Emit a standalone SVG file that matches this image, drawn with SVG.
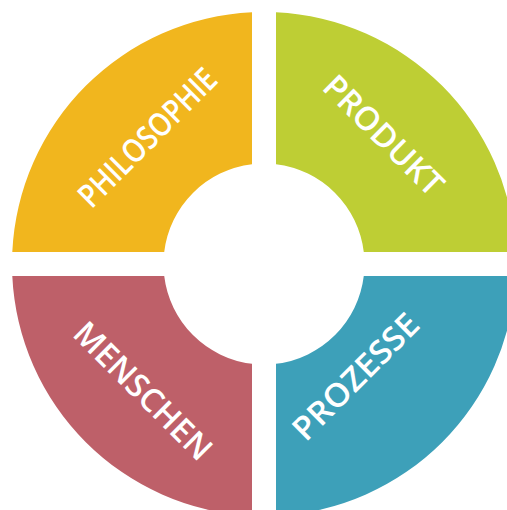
<svg xmlns="http://www.w3.org/2000/svg" width="507" height="510" viewBox="0 0 507 510">
  <style>
    .seg { stroke: none; }
    .label { fill: #ffffff; font-family: "Open Sans", "Liberation Sans", sans-serif; font-weight: 600; font-size: 32.5px; text-anchor: middle; }
  </style>
  <rect width="507" height="510" fill="#ffffff"/>
  <!-- ring centred at (264,264), outer r 252, inner r 100.5, 24px cross-shaped gaps -->
  <g id="philosophie">
    <path class="seg" fill="#F1B61E" d="M12.29,252 A252,252 0 0 1 252,12.29 L252,164.22 A100.5,100.5 0 0 0 164.22,252 Z"/>
    <text class="label" transform="translate(155.4,145.5) rotate(-45)" textLength="181" lengthAdjust="spacingAndGlyphs">PHILOSOPHIE</text>
  </g>
  <g id="produkt">
    <path class="seg" fill="#BECE34" d="M276,12.29 A252,252 0 0 1 515.71,252 L363.78,252 A100.5,100.5 0 0 0 276,164.22 Z"/>
    <text class="label" transform="translate(375.5,143.3) rotate(45)" textLength="155" lengthAdjust="spacingAndGlyphs">PRODUKT</text>
  </g>
  <g id="prozesse">
    <path class="seg" fill="#3DA0B9" d="M515.71,276 A252,252 0 0 1 276,515.71 L276,363.78 A100.5,100.5 0 0 0 363.78,276 Z"/>
    <text class="label" transform="translate(363.7,384.7) rotate(-45)" textLength="164" lengthAdjust="spacingAndGlyphs">PROZESSE</text>
  </g>
  <g id="menschen">
    <path class="seg" fill="#BE6069" d="M252,515.71 A252,252 0 0 1 12.29,276 L164.22,276 A100.5,100.5 0 0 0 252,363.78 Z"/>
    <text class="label" transform="translate(135,399) rotate(45)" textLength="180" lengthAdjust="spacingAndGlyphs">MENSCHEN</text>
  </g>
  <g id="connectors"/>
</svg>
